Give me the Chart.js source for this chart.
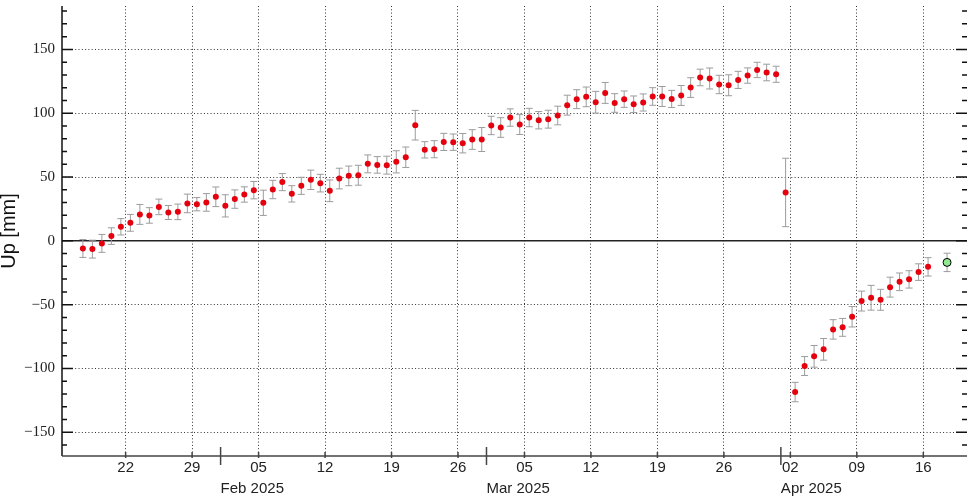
<!DOCTYPE html>
<html>
<head>
<meta charset="utf-8">
<script src="https://cdn.jsdelivr.net/npm/chart.js@4.4.1/dist/chart.umd.min.js"></script>
<style>
  html, body { margin: 0; padding: 0; background: #fff; }
  #wrap { width: 967px; height: 496px; }
</style>
</head>
<body>
<div id="wrap"><canvas id="upChart" width="967" height="496"></canvas></div>
<script>
// daily Up solutions, one per day (plotted at noon)
var dates = [
  '2025-01-17','2025-01-18','2025-01-19','2025-01-20','2025-01-21','2025-01-22','2025-01-23','2025-01-24',
  '2025-01-25','2025-01-26','2025-01-27','2025-01-28','2025-01-29','2025-01-30','2025-01-31',
  '2025-02-01','2025-02-02','2025-02-03','2025-02-04','2025-02-05','2025-02-06','2025-02-07','2025-02-08',
  '2025-02-09','2025-02-10','2025-02-11','2025-02-12','2025-02-13','2025-02-14','2025-02-15','2025-02-16',
  '2025-02-17','2025-02-18','2025-02-19','2025-02-20','2025-02-21','2025-02-22','2025-02-23','2025-02-24',
  '2025-02-25','2025-02-26','2025-02-27','2025-02-28',
  '2025-03-01','2025-03-02','2025-03-03','2025-03-04','2025-03-05','2025-03-06','2025-03-07','2025-03-08',
  '2025-03-09','2025-03-10','2025-03-11','2025-03-12','2025-03-13','2025-03-14','2025-03-15','2025-03-16',
  '2025-03-17','2025-03-18','2025-03-19','2025-03-20','2025-03-21','2025-03-22','2025-03-23','2025-03-24',
  '2025-03-25','2025-03-26','2025-03-27','2025-03-28','2025-03-29','2025-03-30','2025-03-31',
  '2025-04-01','2025-04-02','2025-04-03','2025-04-04','2025-04-05','2025-04-06','2025-04-07','2025-04-08',
  '2025-04-09','2025-04-10','2025-04-11','2025-04-12','2025-04-13','2025-04-14','2025-04-15','2025-04-16'
];
var upValues = [
  -6.0, -6.5, -2.0, 3.7, 11.0, 14.1, 20.7, 19.9,
  26.6, 22.2, 22.7, 29.3, 28.7, 30.1, 34.5,
  27.4, 32.7, 36.3, 39.7, 29.8, 40.2, 46.0, 36.8,
  43.1, 47.8, 45.2, 39.2, 48.8, 50.9, 51.4, 60.3,
  59.5, 59.3, 61.9, 65.5, 90.6, 71.3, 71.8, 77.5,
  77.3, 76.5, 79.4, 79.4,
  90.4, 88.8, 96.6, 91.1, 96.6, 94.5, 95.3, 98.2,
  106.3, 111.0, 112.8, 108.6, 115.9, 108.0, 111.0, 107.0,
  108.4, 113.1, 113.1, 111.2, 113.9, 120.1, 128.0, 127.2,
  122.5, 121.9, 126.1, 129.5, 133.9, 131.9, 130.5,
  37.9, -118.5, -98.1, -90.5, -85.0, -69.4, -67.8, -59.5,
  -47.2, -44.6, -46.2, -36.3, -32.1, -30.2, -24.5, -20.4
];
var upErrors = [
  7.0, 7.0, 7.0, 6.5, 6.4, 6.6, 7.8, 6.1,
  6.1, 5.5, 6.1, 7.3, 5.2, 6.9, 7.7,
  8.7, 7.2, 6.0, 6.8, 9.9, 7.2, 6.7, 6.4,
  6.7, 7.6, 6.9, 8.5, 8.1, 7.7, 7.8, 7.0,
  6.5, 7.0, 8.7, 8.0, 11.6, 6.4, 6.7, 6.7,
  6.4, 7.6, 7.7, 9.4,
  7.2, 7.7, 6.8, 7.8, 7.2, 6.8, 7.0, 7.3,
  7.8, 7.4, 7.7, 8.5, 8.2, 7.3, 6.4, 6.5,
  6.7, 6.9, 7.8, 6.7, 7.8, 7.7, 6.5, 8.2,
  7.2, 8.2, 6.7, 6.0, 6.0, 6.5, 6.3,
  26.8, 7.6, 7.4, 8.5, 8.5, 7.6, 7.0, 8.0,
  7.8, 9.7, 8.2, 7.8, 6.9, 6.8, 6.5, 7.2
];

// latest (rapid) solution, drawn in green
var lastDates = ['2025-04-18'];
var lastValues = [-16.9];
var lastErrors = [7.2];

// x axis: weekly day ticks and month captions
var tickDates = ['2025-01-22','2025-01-29','2025-02-05','2025-02-12','2025-02-19','2025-02-26',
                 '2025-03-05','2025-03-12','2025-03-19','2025-03-26','2025-04-02','2025-04-09','2025-04-16'];
var monthStarts = ['2025-02-01','2025-03-01','2025-04-01'];
var monthLabels = ['Feb 2025','Mar 2025','Apr 2025'];

function dayOf(s) {
    var p = s.split('-');
    return (Date.UTC(+p[0], +p[1] - 1, +p[2]) - Date.UTC(2025, 0, 1)) / 86400000;
}

function toPoints(ds, vals) {
    var pts = [];
    for (var i = 0; i < ds.length; i++) {
        pts.push({ x: dayOf(ds[i]) + 0.5, y: vals[i] });
    }
    return pts;
}

function pad2(n) { return (n < 10 ? '0' : '') + n; }

var decoPlugin = {
    id: 'deco',
    beforeDatasetsDraw: function (chart) {
        var ctx = chart.ctx, a = chart.chartArea;
        var xs = chart.scales.x, ys = chart.scales.y;
        ctx.save();
        // zero line
        var y0 = ys.getPixelForValue(0);
        ctx.strokeStyle = '#222';
        ctx.lineWidth = 1.5;
        ctx.beginPath();
        ctx.moveTo(a.left, y0);
        ctx.lineTo(a.right, y0);
        ctx.stroke();
        // error bars
        ctx.strokeStyle = '#9c9c9c';
        ctx.lineWidth = 1;
        chart.data.datasets.forEach(function (ds) {
            ds.data.forEach(function (p, i) {
                var px = xs.getPixelForValue(p.x);
                var top = ys.getPixelForValue(p.y + ds.errs[i]);
                var bot = ys.getPixelForValue(p.y - ds.errs[i]);
                ctx.beginPath();
                ctx.moveTo(px, top); ctx.lineTo(px, bot);
                ctx.moveTo(px - 3.5, top); ctx.lineTo(px + 3.5, top);
                ctx.moveTo(px - 3.5, bot); ctx.lineTo(px + 3.5, bot);
                ctx.stroke();
            });
        });
        ctx.restore();
    },
    afterDraw: function (chart) {
        var ctx = chart.ctx, a = chart.chartArea;
        var xs = chart.scales.x, ys = chart.scales.y;
        ctx.save();
        // spines
        ctx.strokeStyle = '#111';
        ctx.lineWidth = 1.5;
        ctx.beginPath();
        ctx.moveTo(a.left, a.top); ctx.lineTo(a.left, a.bottom);
        ctx.stroke();
        ctx.strokeStyle = '#444';
        ctx.beginPath();
        ctx.moveTo(a.left, a.bottom); ctx.lineTo(a.right, a.bottom);
        ctx.stroke();
        // y ticks, inward on both sides
        ctx.strokeStyle = '#111';
        for (var v = -160; v <= 180; v += 10) {
            var py = ys.getPixelForValue(v);
            var len = (v % 50 === 0) ? 11 : 5;
            ctx.beginPath();
            ctx.moveTo(a.left, py); ctx.lineTo(a.left + len, py);
            ctx.moveTo(a.right, py); ctx.lineTo(a.right - len, py);
            ctx.stroke();
        }
        // small day ticks
        ctx.strokeStyle = '#444';
        tickDates.forEach(function (d) {
            var px = xs.getPixelForValue(dayOf(d));
            ctx.beginPath();
            ctx.moveTo(px, a.bottom - 4); ctx.lineTo(px, a.bottom + 2);
            ctx.stroke();
        });
        // month marks and captions
        ctx.fillStyle = '#222';
        ctx.font = '15px "Liberation Sans", Arial, sans-serif';
        ctx.textAlign = 'left';
        ctx.textBaseline = 'middle';
        monthStarts.forEach(function (d, i) {
            var px = xs.getPixelForValue(dayOf(d));
            ctx.beginPath();
            ctx.moveTo(px, a.bottom - 9); ctx.lineTo(px, a.bottom + 9);
            ctx.stroke();
            ctx.fillText(monthLabels[i], px, 489);
        });
        ctx.restore();
    }
};

var gridDash = [1, 2.3];

new Chart(document.getElementById('upChart'), {
    type: 'scatter',
    data: {
        datasets: [{
            data: toPoints(dates, upValues),
            errs: upErrors,
            pointRadius: 3,
            pointBackgroundColor: '#e6000e',
            pointBorderWidth: 0,
            pointHoverRadius: 3
        }, {
            data: toPoints(lastDates, lastValues),
            errs: lastErrors,
            pointRadius: 4,
            pointBackgroundColor: '#8fe88f',
            pointBorderColor: '#000',
            pointBorderWidth: 1
        }]
    },
    options: {
        responsive: false,
        devicePixelRatio: 1,
        animation: false,
        layout: { autoPadding: false, padding: { top: 6, right: 0, left: 0, bottom: 0 } },
        plugins: { legend: { display: false }, tooltip: { enabled: false } },
        scales: {
            x: {
                type: 'linear',
                min: 14.3,
                max: 109.6,
                afterBuildTicks: function (scale) {
                    scale.ticks = tickDates.map(function (d) { return { value: dayOf(d) }; });
                },
                afterFit: function (scale) {
                    scale.height = 40;
                    scale.paddingLeft = 0;
                    scale.paddingRight = 0;
                },
                ticks: {
                    padding: 3,
                    maxRotation: 0,
                    autoSkip: false,
                    color: '#222',
                    font: { family: '"Liberation Sans", Arial, sans-serif', size: 15 },
                    callback: function (value) {
                        var d = new Date(Date.UTC(2025, 0, 1) + value * 86400000);
                        return pad2(d.getUTCDate());
                    }
                },
                grid: { color: '#333', lineWidth: 1, drawTicks: false },
                border: { display: false, dash: gridDash }
            },
            y: {
                min: -168.6,
                max: 184,
                afterFit: function (scale) {
                    scale.width = 62;
                    scale.paddingTop = 0;
                    scale.paddingBottom = 0;
                },
                ticks: {
                    stepSize: 50,
                    includeBounds: false,
                    padding: 7,
                    color: '#222',
                    font: { family: '"Liberation Serif", "Times New Roman", serif', size: 15 },
                    callback: function (value) {
                        return value < 0 ? '\u2212' + Math.abs(value) : '' + value;
                    }
                },
                grid: {
                    drawTicks: false,
                    lineWidth: 1,
                    color: function (c) { return c.tick && c.tick.value === 0 ? 'rgba(0,0,0,0)' : '#333'; }
                },
                border: { display: false, dash: gridDash },
                title: {
                    display: true,
                    text: 'Up [mm]',
                    color: '#111',
                    padding: 0,
                    font: { family: '"Liberation Sans", Arial, sans-serif', size: 20, lineHeight: 0.9 }
                }
            }
        }
    },
    plugins: [decoPlugin]
});
</script>
</body>
</html>
